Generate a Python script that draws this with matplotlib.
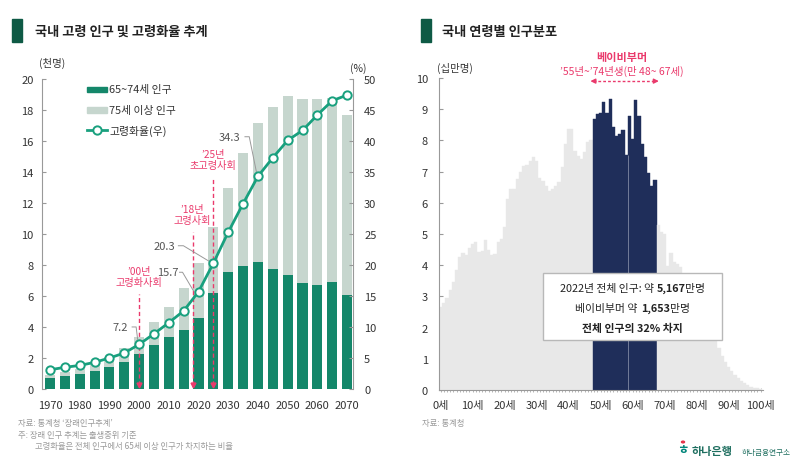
import matplotlib
matplotlib.use('Agg')
import matplotlib.pyplot as plt
from matplotlib.patches import Rectangle, Circle
from matplotlib.lines import Line2D

plt.rcParams['font.family'] = ['Noto Sans CJK KR', 'DejaVu Sans']

# left chart data (5-year steps)
years = list(range(1970, 2071, 5))
pop_65_74 = [0.69, 0.82, 0.99, 1.18, 1.44, 1.76, 2.24, 2.84, 3.38, 3.83, 4.60,
             6.17, 7.53, 7.96, 8.17, 7.76, 7.33, 6.86, 6.71, 6.90, 6.09]
pop_75_plus = [0.21, 0.28, 0.31, 0.42, 0.61, 0.86, 1.11, 1.46, 1.93, 2.67, 3.51,
               4.30, 5.42, 7.24, 8.97, 10.44, 11.57, 11.84, 11.99, 11.85, 11.59]
aging_rate = [3.1, 3.5, 3.8, 4.3, 5.0, 5.8, 7.2, 8.9, 10.7, 12.6, 15.7,
              20.3, 25.3, 29.9, 34.3, 37.3, 40.1, 41.7, 44.2, 46.5, 47.4]
labeled_years = [2000, 2020, 2025, 2040]
events = [(2000, "’00년", "고령화사회"), (2018, "’18년", "고령사회"), (2025, "’25년", "초고령사회")]

# right chart data (population by age, 2022, unit 100k)
ages = list(range(0, 101))
pop_by_age = [2.65, 2.80, 2.95, 3.20, 3.47, 3.84, 4.27, 4.39, 4.32, 4.56,
              4.67, 4.74, 4.43, 4.45, 4.80, 4.48, 4.32, 4.37, 4.74, 4.85,
              5.22, 6.13, 6.43, 6.43, 6.77, 6.98, 7.19, 7.21, 7.35, 7.46,
              7.35, 6.79, 6.71, 6.53, 6.39, 6.45, 6.55, 6.66, 7.14, 7.88,
              8.38, 8.36, 7.67, 7.51, 7.40, 7.62, 7.95, 8.00, 8.68, 8.84,
              8.87, 9.23, 8.89, 9.33, 8.44, 8.15, 8.22, 8.34, 7.53, 8.77,
              8.04, 9.30, 8.77, 7.88, 7.46, 6.96, 6.55, 6.73, 5.30, 5.06,
              5.00, 3.97, 4.39, 4.10, 4.05, 3.95, 3.70, 3.50, 3.30, 3.10,
              2.90, 2.70, 2.50, 2.30, 2.10, 1.85, 1.60, 1.35, 1.10, 0.90,
              0.75, 0.60, 0.48, 0.38, 0.30, 0.22, 0.16, 0.11, 0.08, 0.05, 0.03]
boomer_start, boomer_end = 48, 67
age_ticks = list(range(0, 101, 10))

GREEN = '#14876a'
LIGHT = '#c6d6ce'
LINE = '#19a07e'
PINK = '#ea3a6c'
NAVY = '#1f2e5a'
GRAYBAR = '#e8e8e8'
DARKG = '#0e5a45'
TXT = '#333333'

fig = plt.figure(figsize=(8, 4.6), dpi=100)


def fx(x):
    return x / 800


def fy(y):
    return 1 - y / 460


# ---------- left chart ----------
ax = fig.add_axes([fx(42), fy(390), 311 / 800, 310 / 460])
ax.bar(years, pop_65_74, width=3.4, color=GREEN, zorder=2)
ax.bar(years, pop_75_plus, bottom=pop_65_74, width=3.4, color=LIGHT, zorder=2)
ax.set_xlim(1967.3, 2072)
ax.set_ylim(0, 20)
ax.set_yticks(range(0, 21, 2))
ax.set_xticks(range(1970, 2071, 10))
for s in ['top', 'right', 'bottom']:
    ax.spines[s].set_visible(False)
ax.spines['left'].set_color('#999999')
ax.spines['left'].set_linewidth(0.8)
ax.tick_params(axis='y', direction='in', length=3, color='#999999', labelsize=8, labelcolor=TXT, pad=6)
ax.tick_params(axis='x', length=0, labelsize=8, labelcolor=TXT, pad=8)

ax2 = ax.twinx()
ax2.set_ylim(0, 50)
ax2.set_yticks(range(0, 51, 5))
for s in ['top', 'left', 'bottom']:
    ax2.spines[s].set_visible(False)
ax2.spines['right'].set_color('#999999')
ax2.spines['right'].set_linewidth(0.8)
ax2.tick_params(axis='y', direction='in', length=3, color='#999999', labelsize=8, labelcolor=TXT, pad=8)

# event markers (dashed pink arrows)
event_top = {2000: 15.3, 2018: 25.3, 2025: 34.2}
for yr, line1, line2 in events:
    top = event_top[yr]
    ax2.plot([yr, yr], [0.6, top], color=PINK, lw=1, ls=(0, (3, 2)), zorder=3)
    ax2.plot([yr], [0.6], marker='v', color=PINK, ms=3.5, zorder=3)
    ax2.text(yr, top + 1.9, line2, color=PINK, fontsize=7.3, ha='center', va='center', zorder=6)
    ax2.text(yr, top + 3.7, line1, color=PINK, fontsize=7.3, ha='center', va='center', zorder=6)

ax2.plot(years, aging_rate, color=LINE, lw=2, marker='o', ms=6, mfc='white',
         mec=LINE, mew=1.4, zorder=5, clip_on=False)

# value labels with leader lines (offsets in pixels from marker)
leaders = {
    2000: ((-19, 17.4), [(-7, 17.4), (-3, 17.4), (-1.5, 5)]),
    2020: ((-31, 20.0), [(-19, 19.4), (-16, 19.4), (-5.2, 1)]),
    2025: ((-49, 17.4), [(-35, 17.4), (-30, 17.4), (-3.5, 1.4)]),
    2040: ((-28, 39.6), [(-13, 39.6), (-8.7, 39.6), (-1.3, 3.3)]),
}
for yr in labeled_years:
    r = aging_rate[years.index(yr)]
    (tdx, tdy), pts = leaders[yr]
    ax2.text(yr + tdx / 2.97, r + tdy / 6.2, f'{r}', color='#555555', fontsize=8,
             ha='center', va='center', zorder=6)
    ax2.plot([yr + p[0] / 2.97 for p in pts], [r + p[1] / 6.2 for p in pts],
             color='#999999', lw=0.7, zorder=4)

# legend
fig.patches.append(Rectangle((fx(87), fy(93)), 20 / 800, 5 / 460, transform=fig.transFigure, color=GREEN))
fig.patches.append(Rectangle((fx(87), fy(114)), 20 / 800, 6 / 460, transform=fig.transFigure, color=LIGHT))
fig.lines.append(Line2D([fx(87), fx(107)], [fy(131), fy(131)], transform=fig.transFigure, color=LINE, lw=2))
fig.lines.append(Line2D([fx(97)], [fy(131)], transform=fig.transFigure, color=LINE, marker='o', ms=6,
                        mfc='white', mec=LINE, mew=1.4))
fig.text(fx(109), fy(90), '65~74세 인구', fontsize=7.8, color=TXT, va='center')
fig.text(fx(109), fy(111), '75세 이상 인구', fontsize=7.8, color=TXT, va='center')
fig.text(fx(109), fy(131), '고령화율(우)', fontsize=7.8, color=TXT, va='center')

fig.text(fx(52), fy(63), '(천명)', fontsize=7.5, color=TXT, ha='center', va='center')
fig.text(fx(358), fy(69), '(%)', fontsize=7.5, color=TXT, ha='center', va='center')

# titles
for x0, tx, title in [(12, 35, '국내 고령 인구 및 고령화율 추계'), (421, 442, '국내 연령별 인구분포')]:
    fig.patches.append(Rectangle((fx(x0), fy(43)), 10 / 800, 23 / 460, transform=fig.transFigure, color=DARKG))
    fig.text(fx(tx), fy(32), title, fontsize=9.5, fontweight='bold', color='#222222', va='center')

# footers
fig.text(fx(18), fy(424), '자료: 통계청 ‘장래인구추계’', fontsize=6, color='#9a9a9a', va='center')
fig.text(fx(18), fy(436), '주: 장래 인구 추계는 출생중위 기준', fontsize=6, color='#9a9a9a', va='center')
fig.text(fx(35), fy(447), '고령화율은 전체 인구에서 65세 이상 인구가 차지하는 비율', fontsize=6, color='#9a9a9a', va='center')
fig.text(fx(422), fy(424), '자료: 통계청', fontsize=6, color='#9a9a9a', va='center')

# ---------- right chart ----------
axr = fig.add_axes([fx(439), fy(391), 324 / 800, 312 / 460])
colors = [NAVY if boomer_start <= a <= boomer_end else GRAYBAR for a in ages]
axr.bar(ages, pop_by_age, width=1.0, color=colors, edgecolor=colors, linewidth=0.3, zorder=2)
seam = boomer_start + 10.5
axr.vlines(seam, 0, pop_by_age[int(seam - 0.5)], color='#7f88a3', lw=0.6, zorder=3)
axr.set_xlim(-0.5, 100.75)
axr.set_ylim(0, 10)
axr.set_yticks(range(0, 11))
axr.set_xticks(age_ticks)
axr.set_xticklabels([f'{a}세' for a in age_ticks])
axr.set_xticks(ages, minor=True)
for s in ['top', 'right']:
    axr.spines[s].set_visible(False)
for s in ['left', 'bottom']:
    axr.spines[s].set_color('#999999')
    axr.spines[s].set_linewidth(0.8)
axr.tick_params(axis='y', direction='in', length=3, color='#999999', labelsize=8, labelcolor=TXT, pad=8)
axr.tick_params(axis='x', which='both', direction='inout', length=3, width=0.5, color='#999999',
                labelsize=8, labelcolor=TXT, pad=6)
fig.text(fx(455), fy(68), '(십만명)', fontsize=7.5, color=TXT, ha='center', va='center')

# baby boomer annotation
fig.text(fx(622), fy(57), '베이비부머', color=PINK, fontsize=8, fontweight='bold', ha='center', va='center')
fig.text(fx(622), fy(71), '’55년~’74년생(만 48~ 67세)', color=PINK, fontsize=7.5, ha='center', va='center')
ay = 9.9
axr.plot([boomer_start - 0.3, boomer_end + 0.3], [ay, ay], color=PINK, lw=1, ls=(0, (2, 1.5)), clip_on=False)
axr.annotate('', xy=(boomer_start - 1.2, ay), xytext=(boomer_start + 0.5, ay),
             arrowprops=dict(arrowstyle='-|>', color=PINK, lw=1, mutation_scale=7, shrinkA=0, shrinkB=0),
             annotation_clip=False)
axr.annotate('', xy=(boomer_end + 1.2, ay), xytext=(boomer_end - 0.5, ay),
             arrowprops=dict(arrowstyle='-|>', color=PINK, lw=1, mutation_scale=7, shrinkA=0, shrinkB=0),
             annotation_clip=False)

# info box
fig.patches.append(Rectangle((fx(543), fy(341)), 179 / 800, 67 / 460, transform=fig.transFigure,
                             facecolor='white', edgecolor='#b8b8b8', lw=1, zorder=5))
renderer = fig.canvas.get_renderer()


def mixed_line(xc, y, parts, size):
    items = []
    for s, w, gap in parts:
        t = fig.text(0, fy(y), s, fontsize=size, fontweight=w, color='#222222', va='center', ha='left', zorder=10)
        items.append((t, gap))
    total = 0
    widths = []
    for t, gap in items:
        w = t.get_window_extent(renderer).width
        widths.append(w)
        total += w + gap
    x = xc - total / 2
    for (t, gap), w in zip(items, widths):
        x += gap
        t.set_x(fx(x))
        x += w


xc = (543 + 722) / 2
mixed_line(xc, 289, [('2022년 전체 인구: 약', 'normal', 0), ('5,167', 'bold', 3), ('만명', 'normal', 0)], 7.8)
mixed_line(xc, 309, [('베이비부머 약', 'normal', 0), ('1,653', 'bold', 3), ('만명', 'normal', 0)], 7.8)
mixed_line(xc, 329, [('전체 인구의 32% 차지', 'bold', 0)], 7.8)

# logo
fig.text(fx(683), fy(451), 'ㅎ', color='#00857a', fontsize=9, fontweight='bold', ha='center', va='center')
fig.patches.append(Circle((fx(683), fy(443)), 1.5 / 800, transform=fig.transFigure, color='#e5334b'))
fig.text(fx(692), fy(452), '하나은행', color='#1f6f60', fontsize=8, fontweight='bold', va='center')
fig.text(fx(742), fy(453), '하나금융연구소', color='#1f6f60', fontsize=5.5, va='center')

fig.savefig('out.png', dpi=100)
